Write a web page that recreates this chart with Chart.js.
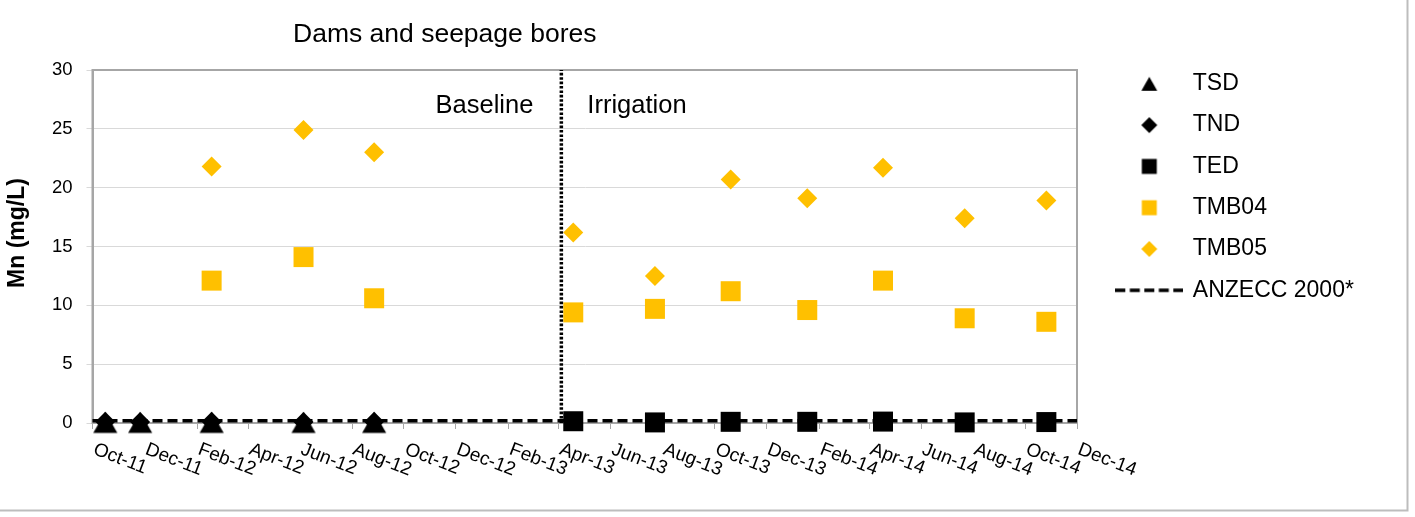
<!DOCTYPE html>
<html>
<head>
<meta charset="utf-8">
<title>Dams and seepage bores - Mn</title>
<script src="https://cdn.jsdelivr.net/npm/chart.js@4.4.1/dist/chart.umd.min.js"></script>
<style>
  html, body { margin: 0; padding: 0; background: #fff; }
  canvas { display: block; }
</style>
</head>
<body>
<canvas id="mn" width="1415" height="517"></canvas>
<script>
const FONT = '"Liberation Sans", Arial, Helvetica, sans-serif';

// Date axis labels, one every second month
const tickLabels = ['Oct-11','Dec-11','Feb-12','Apr-12','Jun-12','Aug-12','Oct-12','Dec-12','Feb-13','Apr-13',
                    'Jun-13','Aug-13','Oct-13','Dec-13','Feb-14','Apr-14','Jun-14','Aug-14','Oct-14','Dec-14'];

// Dams TSD / TND (baseline sampling)
const damDates = ['2011-10-16','2011-11-26','2012-02-18','2012-06-05','2012-08-27'];
const tsdMn = [0.05, 0.05, 0.05, 0.05, 0.05];
const tndMn = [0.1, 0.08, 0.1, 0.08, 0.1];

// Seepage bores TMB04 / TMB05
const boreDates = ['2012-02-18','2012-06-05','2012-08-27','2013-04-18','2013-07-23',
                   '2013-10-20','2014-01-18','2014-04-17','2014-07-22','2014-10-26'];
const tmb04Mn = [12.1, 14.1, 10.6, 9.4, 9.7, 11.2, 9.6, 12.1, 8.9, 8.6];
const tmb05Mn = [21.8, 24.9, 23.0, 16.2, 12.5, 20.7, 19.1, 21.7, 17.4, 18.9];

// Effluent dam TED (irrigation sampling)
const tedDates = ['2013-04-18','2013-07-23','2013-10-20','2014-01-18','2014-04-17','2014-07-22','2014-10-26'];
const tedMn = [0.15, 0.05, 0.1, 0.1, 0.12, 0.05, 0.08];

// ANZECC 2000 trigger value and the start of irrigation
const anzeccMn = 0.2;
const irrigationStart = '2013-04-04';
const phaseLabels = ['Baseline', 'Irrigation'];
const yAxis = { min: 0, max: 30, step: 5 };

const GOLD = '#FFC000';
const BLACK = '#000000';

// ---- date helpers (days since epoch on a linear axis) ----
const DAY = 864e5;
const MONTHS = ['Jan','Feb','Mar','Apr','May','Jun','Jul','Aug','Sep','Oct','Nov','Dec'];
const toDay = s => { const [y, m, d] = s.split('-').map(Number); return Date.UTC(y, m - 1, d) / DAY; };
const labelToDay = l => { const [mon, yy] = l.split('-'); return Date.UTC(2000 + Number(yy), MONTHS.indexOf(mon), 1) / DAY; };
const tickDays = tickLabels.map(labelToDay);
const points = (dates, vals) => dates.map((d, i) => ({ x: toDay(d), y: vals[i] }));

// ---- marker glyphs (triangles are centred on their bounding box) ----
function glyph(style, radius, color, size) {
  const c = document.createElement('canvas');
  c.width = size; c.height = size;
  const g = c.getContext('2d');
  g.fillStyle = color; g.strokeStyle = color;
  const dy = style === 'triangle' ? radius / 4 : 0;
  Chart.helpers.drawPoint(g, { pointStyle: style, radius, rotation: 0, borderWidth: 0 }, size / 2, size / 2 + dy);
  return c;
}
function dashGlyph(w, lw, dash) {
  const c = document.createElement('canvas');
  c.width = w; c.height = 8;
  const g = c.getContext('2d');
  g.strokeStyle = BLACK; g.lineWidth = lw; g.setLineDash(dash);
  g.beginPath(); g.moveTo(0, 4); g.lineTo(w, 4); g.stroke();
  return c;
}
const tsdMarker = glyph('triangle', 13.9, BLACK, 30);
const legendGlyphs = {
  'TSD': glyph('triangle', 9.2, BLACK, 22),
  'TND': glyph('rectRot', 8, BLACK, 22),
  'TED': glyph('rect', 10.6, BLACK, 22),
  'TMB04': glyph('rect', 10.6, GOLD, 22),
  'TMB05': glyph('rectRot', 8, GOLD, 22),
  'ANZECC 2000*': dashGlyph(68, 3.5, [10, 4.5])
};

// ---- decorations: plot frame, titles, phase labels, slanted date labels ----
const decor = {
  id: 'decor',
  afterLayout(chart) {
    // legend column sits a little right of the plot, top aligned with it
    const lg = chart.legend;
    lg.left = chart.chartArea.right + 22;
    lg.right = chart.width;
    lg.width = lg.right - lg.left;
    lg.top = chart.chartArea.top - 16;
    lg.bottom = chart.height;
    lg.height = lg.bottom - lg.top;
  },
  beforeDatasetsDraw(chart) {
    const { ctx, chartArea: a } = chart;
    ctx.save();
    ctx.strokeStyle = '#a6a6a6';
    ctx.lineWidth = 2;
    ctx.strokeRect(a.left, a.top, a.right - a.left, a.bottom - a.top);
    ctx.restore();
  },
  afterDraw(chart) {
    const { ctx, chartArea: a, scales: { x } } = chart;
    ctx.save();
    // outer frame (right and bottom edges)
    ctx.strokeStyle = '#bdbdbd';
    ctx.lineWidth = 2;
    ctx.beginPath();
    ctx.moveTo(1407.5, 0); ctx.lineTo(1407.5, 510.5); ctx.lineTo(0, 510.5);
    ctx.stroke();

    ctx.fillStyle = BLACK;
    // chart title
    ctx.font = `26.5px ${FONT}`;
    ctx.textAlign = 'left';
    ctx.textBaseline = 'alphabetic';
    ctx.fillText('Dams and seepage bores', 293, 42);

    // y axis title
    ctx.save();
    ctx.font = `bold 23px ${FONT}`;
    ctx.textAlign = 'center';
    ctx.textBaseline = 'middle';
    ctx.translate(17.5, 233);
    ctx.rotate(-Math.PI / 2);
    ctx.fillText('Mn (mg/L)', 0, 0);
    ctx.restore();

    // phase labels either side of the irrigation start line
    const xl = x.getPixelForValue(toDay(irrigationStart));
    ctx.font = `25.5px ${FONT}`;
    ctx.textAlign = 'right';
    ctx.fillText(phaseLabels[0], xl - 28, a.top + 42.5);
    ctx.textAlign = 'left';
    ctx.fillText(phaseLabels[1], xl + 26, a.top + 42.5);

    // slanted date labels
    ctx.font = `19px ${FONT}`;
    ctx.textAlign = 'left';
    ctx.textBaseline = 'top';
    tickLabels.forEach((lab, i) => {
      const px = x.getPixelForValue(tickDays[i]);
      ctx.save();
      ctx.translate(px + 5, a.bottom + 17);
      ctx.rotate(21 * Math.PI / 180);
      ctx.fillText(lab, 0, 0);
      ctx.restore();
    });
    ctx.restore();
  }
};

Chart.defaults.font.family = FONT;
Chart.defaults.color = BLACK;

const markerSet = (label, dates, vals, style, radius, color, order) => ({
  label, data: points(dates, vals), order, clip: false,
  pointStyle: style, pointRadius: radius, pointHoverRadius: radius,
  backgroundColor: color, borderColor: color,
  pointBackgroundColor: color, pointBorderColor: color, pointBorderWidth: 0,
  showLine: false
});

new Chart(document.getElementById('mn'), {
  type: 'scatter',
  data: {
    datasets: [
      markerSet('TSD', damDates, tsdMn, tsdMarker, 12, BLACK, 6),
      markerSet('TND', damDates, tndMn, 'rectRot', 10, BLACK, 5),
      markerSet('TED', tedDates, tedMn, 'rect', 14.14, BLACK, 4),
      markerSet('TMB04', boreDates, tmb04Mn, 'rect', 14.14, GOLD, 3),
      markerSet('TMB05', boreDates, tmb05Mn, 'rectRot', 10, GOLD, 2),
      {
        label: 'ANZECC 2000*', order: 0, showLine: true, clip: false,
        data: [{ x: tickDays[0], y: anzeccMn }, { x: tickDays[tickDays.length - 1], y: anzeccMn }],
        borderColor: BLACK, borderWidth: 3.5, borderDash: [10, 5], pointRadius: 0, pointHoverRadius: 0
      },
      {
        label: 'irrigation start', order: 1, showLine: true, clip: false,
        data: [{ x: toDay(irrigationStart), y: yAxis.min }, { x: toDay(irrigationStart), y: yAxis.max }],
        borderColor: BLACK, borderWidth: 3.5, borderDash: [2.6, 1.8], pointRadius: 0, pointHoverRadius: 0
      }
    ]
  },
  options: {
    responsive: false,
    animation: false,
    events: [],
    layout: { padding: { left: 0, top: 70, right: 138, bottom: 0 } },
    scales: {
      x: {
        type: 'linear',
        min: tickDays[0],
        max: tickDays[tickDays.length - 1],
        afterBuildTicks: s => { s.ticks = tickDays.map(v => ({ value: v })); },
        afterFit: s => { s.height = 94; },
        ticks: { display: false },
        grid: { drawOnChartArea: false, drawTicks: true, tickLength: 6, color: '#a6a6a6', lineWidth: 1 },
        border: { color: '#a6a6a6', width: 2 }
      },
      y: {
        min: yAxis.min,
        max: yAxis.max,
        afterFit: s => { s.width = 92.5; },
        ticks: { stepSize: yAxis.step, color: BLACK, font: { family: FONT, size: 18.5 }, padding: 14 },
        grid: { color: '#d9d9d9', lineWidth: 1, tickLength: 6 },
        border: { color: '#a6a6a6', width: 2 },
        title: { display: false }
      }
    },
    plugins: {
      tooltip: { enabled: false },
      title: { display: false },
      legend: {
        position: 'right',
        align: 'start',
        maxWidth: 200,
        labels: {
          usePointStyle: true,
          pointStyleWidth: 64,
          padding: 18.3,
          color: BLACK,
          font: { family: FONT, size: 23 },
          generateLabels: chart => chart.data.datasets
            .map((ds, i) => ({ ds, i }))
            .filter(({ ds }) => legendGlyphs[ds.label])
            .map(({ ds, i }) => ({
              text: ds.label,
              datasetIndex: i,
              fillStyle: ds.backgroundColor || BLACK,
              strokeStyle: ds.borderColor || BLACK,
              lineWidth: 0,
              hidden: false,
              fontColor: BLACK,
              pointStyle: legendGlyphs[ds.label]
            }))
        }
      }
    }
  },
  plugins: [decor]
});
</script>
</body>
</html>
